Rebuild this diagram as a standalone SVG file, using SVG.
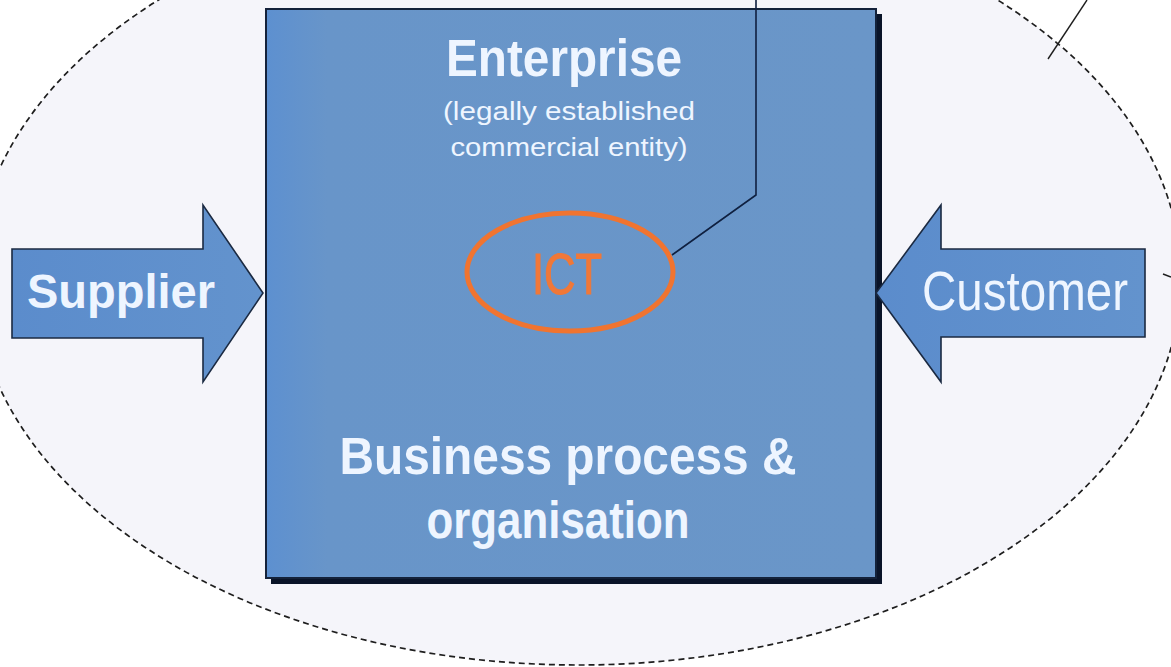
<svg xmlns="http://www.w3.org/2000/svg" width="1171" height="667" viewBox="0 0 1171 667">
<defs>
<linearGradient id="boxGrad" x1="0" y1="0" x2="1" y2="0">
<stop offset="0" stop-color="#5d90d0"/>
<stop offset="0.1" stop-color="#6895c9"/>
<stop offset="1" stop-color="#6a96c8"/>
</linearGradient>
<linearGradient id="arrowGrad" x1="0" y1="0" x2="1" y2="0">
<stop offset="0" stop-color="#5b8ccc"/>
<stop offset="1" stop-color="#6393cd"/>
</linearGradient>
</defs>
<style>
.arrow{fill:url(#arrowGrad);stroke:#1b2a42;stroke-width:1.6}
.lbl{fill:#eef5ff;font-family:"Liberation Sans",Arial,sans-serif}
.b{font-weight:bold}
.conn{fill:none;stroke:#0f2040;stroke-width:1.6}
</style>
<rect width="1171" height="667" fill="#ffffff"/>
<g id="environment">
<ellipse cx="578" cy="278" rx="603" ry="387" fill="#f5f5fa" stroke="#1e1e1e" stroke-width="1.7" stroke-dasharray="6 4"/>
</g>
<g id="enterprise">
<rect x="271" y="14" width="611" height="570" fill="#0a1428"/>
<rect x="266" y="9" width="610" height="569" fill="url(#boxGrad)" stroke="#14223a" stroke-width="2"/>
<text class="lbl b" x="564" y="76" font-size="51" text-anchor="middle" textLength="236" lengthAdjust="spacingAndGlyphs">Enterprise</text>
<text class="lbl" x="569" y="120" font-size="26" text-anchor="middle" textLength="252" lengthAdjust="spacingAndGlyphs">(legally established</text>
<text class="lbl" x="569" y="156" font-size="26" text-anchor="middle" textLength="237" lengthAdjust="spacingAndGlyphs">commercial entity)</text>
<text class="lbl b" x="568" y="474" font-size="51" text-anchor="middle" textLength="457" lengthAdjust="spacingAndGlyphs">Business process &amp;</text>
<text class="lbl b" x="558" y="538" font-size="51" text-anchor="middle" textLength="263" lengthAdjust="spacingAndGlyphs">organisation</text>
</g>
<g id="ict">
<ellipse cx="570" cy="272" rx="103" ry="59" fill="none" stroke="#f07430" stroke-width="5"/>
<text x="567" y="294" font-size="58" fill="#f07838" stroke="#f07838" stroke-width="1.2" font-family="'Liberation Sans',Arial,sans-serif" text-anchor="middle" textLength="70" lengthAdjust="spacingAndGlyphs">ICT</text>
</g>
<g id="supplier">
<polygon class="arrow" points="12,249 203,249 203,205 263,293 203,382 203,338 12,338"/>
<text class="lbl b" x="27" y="308" font-size="48" textLength="188" lengthAdjust="spacingAndGlyphs">Supplier</text>
</g>
<g id="customer">
<polygon class="arrow" points="1145,249 941,249 941,205 876,293 941,382 941,337 1145,337"/>
<text class="lbl" x="922" y="310" font-size="55" textLength="206" lengthAdjust="spacingAndGlyphs">Customer</text>
</g>
<g id="connectors">
<polyline class="conn" points="672,255 756,195 756,0"/>
<line x1="1048" y1="59" x2="1087" y2="0" stroke="#1e1e1e" stroke-width="1.4"/>
<line x1="1163" y1="274" x2="1171" y2="277" stroke="#1e1e1e" stroke-width="1.6"/>
</g>
</svg>
